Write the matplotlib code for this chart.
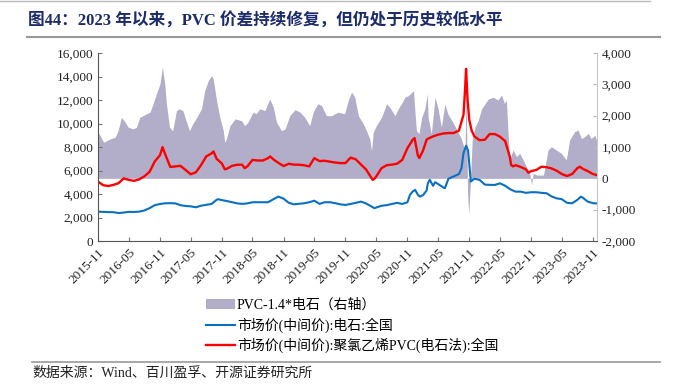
import pandas as pd
import matplotlib
matplotlib.use('Agg')
import matplotlib.pyplot as plt
from matplotlib.ticker import FuncFormatter, MultipleLocator
from matplotlib.patches import Patch
from matplotlib.lines import Line2D

plt.rcParams['font.family'] = ['Liberation Serif', 'Noto Sans CJK SC']
plt.rcParams['axes.unicode_minus'] = False

TITLE = '图44：2023 年以来，PVC 价差持续修复，但仍处于历史较低水平'
SOURCE = '数据来源：Wind、百川盈孚、开源证券研究所'
LABEL_SPREAD = 'PVC-1.4*电石（右轴）'
LABEL_CARBIDE = '市场价(中间价):电石:全国'
LABEL_PVC = '市场价(中间价):聚氯乙烯PVC(电石法):全国'

# PVC price (left axis)
pvc_dates = [
    '2015-11-01', '2015-12-01', '2016-01-01', '2016-02-01', '2016-03-01', '2016-04-01',
    '2016-05-01', '2016-06-01', '2016-07-01', '2016-08-01', '2016-09-01', '2016-10-01',
    '2016-11-01', '2016-11-16', '2016-12-01', '2017-01-01', '2017-02-01', '2017-03-01',
    '2017-04-01', '2017-05-01', '2017-06-01', '2017-07-01', '2017-08-01', '2017-09-01',
    '2017-09-13', '2017-10-01', '2017-11-01', '2017-11-19', '2017-12-01', '2018-01-01',
    '2018-02-01', '2018-03-01', '2018-03-16', '2018-04-01', '2018-05-01', '2018-06-01',
    '2018-07-01', '2018-08-01', '2018-08-13', '2018-09-01', '2018-10-01', '2018-11-01',
    '2018-12-01', '2019-01-01', '2019-02-01', '2019-03-01', '2019-04-01', '2019-05-01',
    '2019-06-01', '2019-07-01', '2019-08-01', '2019-09-01', '2019-10-01', '2019-11-01',
    '2019-12-01', '2020-01-01', '2020-02-01', '2020-03-01', '2020-04-01', '2020-04-10',
    '2020-04-20', '2020-05-01', '2020-06-01', '2020-07-01', '2020-08-01', '2020-09-01',
    '2020-10-01', '2020-11-01', '2020-12-01', '2020-12-13', '2021-01-01', '2021-01-10',
    '2021-02-01', '2021-02-22', '2021-03-01', '2021-04-01', '2021-05-01', '2021-06-01',
    '2021-07-01', '2021-08-01', '2021-09-01', '2021-09-28', '2021-10-07', '2021-10-13',
    '2021-10-22', '2021-11-01', '2021-11-15', '2021-12-01', '2022-01-01', '2022-02-01',
    '2022-03-01', '2022-04-01', '2022-05-01', '2022-06-01', '2022-06-28', '2022-07-06',
    '2022-07-16', '2022-08-01', '2022-09-01', '2022-10-01', '2022-10-16', '2022-11-01',
    '2022-12-01', '2023-01-01', '2023-02-01', '2023-03-01', '2023-04-01', '2023-05-01',
    '2023-06-01', '2023-07-01', '2023-08-01', '2023-08-16', '2023-09-01', '2023-10-01',
    '2023-11-01', '2023-11-22']
pvc_values = [
    5060, 4750, 4680, 4780, 4920, 5330,
    5200, 5120, 5250, 5500, 5900, 6770,
    7300, 7990, 7400, 6300, 6350, 6400,
    6050, 5680, 5850, 6450, 7200, 7450,
    7620, 7000, 6600, 6100, 6150, 6400,
    6490, 6490, 6200, 6350, 6900, 6850,
    6850, 7050, 7200, 6950, 6650, 6380,
    6570, 6500, 6490, 6450, 6350, 7050,
    6800, 6830, 6750, 6680, 6630, 6630,
    7100, 6950, 6500, 6100, 5400, 5200,
    5300, 5500, 6200, 6450, 6500, 6580,
    6900, 7900, 8600, 8760, 7300, 7060,
    7700, 8620, 8700, 8900, 9050, 9150,
    9190, 9190, 9400, 10750, 12890, 14650,
    12000, 10300, 9400, 8900, 8580, 8620,
    9100, 9100, 8880, 8500, 7180, 6470,
    6350, 6450, 6300, 6100, 5810, 5950,
    6040, 6320, 6280, 6180, 5980, 5700,
    5530, 5700, 6200, 6320, 6150, 5950,
    5700, 5620]

# calcium carbide price (left axis)
carbide_dates = [
    '2015-11-01', '2015-12-01', '2016-01-01', '2016-02-01', '2016-03-01', '2016-04-01',
    '2016-05-01', '2016-06-01', '2016-07-01', '2016-08-01', '2016-09-01', '2016-10-01',
    '2016-11-01', '2016-12-01', '2017-01-01', '2017-02-01', '2017-03-01', '2017-04-01',
    '2017-05-01', '2017-06-01', '2017-07-01', '2017-08-01', '2017-09-01', '2017-10-01',
    '2017-10-10', '2017-11-01', '2017-12-01', '2018-01-01', '2018-02-01', '2018-03-01',
    '2018-04-01', '2018-05-01', '2018-06-01', '2018-07-01', '2018-08-01', '2018-09-01',
    '2018-10-01', '2018-11-01', '2018-12-01', '2019-01-01', '2019-02-01', '2019-03-01',
    '2019-04-01', '2019-05-01', '2019-06-01', '2019-07-01', '2019-08-01', '2019-09-01',
    '2019-10-01', '2019-11-01', '2019-12-01', '2020-01-01', '2020-02-01', '2020-03-01',
    '2020-04-01', '2020-04-20', '2020-05-01', '2020-06-01', '2020-07-01', '2020-08-01',
    '2020-09-01', '2020-10-01', '2020-11-01', '2020-11-16', '2020-12-01', '2020-12-16',
    '2021-01-01', '2021-01-13', '2021-02-01', '2021-02-22', '2021-03-01', '2021-03-13',
    '2021-04-01', '2021-04-13', '2021-05-01', '2021-06-01', '2021-06-10', '2021-07-01',
    '2021-08-01', '2021-09-01', '2021-09-16', '2021-09-28', '2021-10-13', '2021-10-25',
    '2021-11-10', '2021-12-01', '2022-01-01', '2022-02-01', '2022-03-01', '2022-04-01',
    '2022-05-01', '2022-06-01', '2022-07-01', '2022-08-01', '2022-09-01', '2022-10-01',
    '2022-11-01', '2022-12-01', '2023-01-01', '2023-02-01', '2023-03-01', '2023-04-01',
    '2023-05-01', '2023-06-01', '2023-07-01', '2023-08-01', '2023-08-22', '2023-09-01',
    '2023-10-01', '2023-11-01', '2023-11-22']
carbide_values = [
    2500, 2480, 2460, 2450, 2380, 2420,
    2480, 2470, 2500, 2600, 2800, 3050,
    3150, 3210, 3220, 3200, 3050, 2980,
    2950, 2870, 3000, 3080, 3150, 3500,
    3560, 3480, 3400, 3300, 3200, 3160,
    3200, 3300, 3300, 3300, 3300, 3550,
    3780, 3600, 3250, 3120, 3170, 3210,
    3300, 3430, 3160, 3300, 3300, 3220,
    3120, 3070, 3150, 3250, 3350, 3200,
    2950, 2790, 2850, 3000, 3050, 3150,
    3250, 3150, 3300, 3930, 4200, 4350,
    3950, 3780, 3900, 4300, 4900, 5210,
    4700, 5000, 4850, 4550, 4500, 5300,
    5500, 5700, 6200, 7480, 8110, 7700,
    5060, 5300, 5200, 4800, 4780, 4770,
    4910, 4700, 4400, 4200, 4200, 4100,
    4150, 4150, 4100, 4060, 3800, 3630,
    3560, 3250, 3210, 3500, 3770, 3700,
    3350, 3220, 3200]

# PVC - 1.4 * carbide spread (right axis)
spread_dates = [
    '2015-11-01', '2015-11-14', '2015-12-04', '2015-12-22', '2016-01-12', '2016-02-10',
    '2016-02-28', '2016-03-18', '2016-04-09', '2016-04-27', '2016-05-26', '2016-06-15',
    '2016-07-05', '2016-07-24', '2016-08-13', '2016-09-03', '2016-09-21', '2016-10-11',
    '2016-11-01', '2016-11-15', '2016-11-29', '2016-12-09', '2016-12-27', '2017-01-15',
    '2017-02-06', '2017-02-23', '2017-03-16', '2017-04-04', '2017-04-24', '2017-05-13',
    '2017-06-01', '2017-07-04', '2017-07-23', '2017-08-13', '2017-09-02', '2017-09-11',
    '2017-10-01', '2017-10-20', '2017-11-10', '2017-11-18', '2017-11-28', '2017-12-19',
    '2018-01-19', '2018-02-25', '2018-03-16', '2018-04-04', '2018-05-04', '2018-05-23',
    '2018-06-13', '2018-07-13', '2018-08-11', '2018-09-01', '2018-09-20', '2018-10-19',
    '2018-11-10', '2018-12-07', '2019-01-07', '2019-02-06', '2019-03-05', '2019-04-04',
    '2019-04-24', '2019-05-22', '2019-06-13', '2019-07-11', '2019-08-10', '2019-09-18',
    '2019-10-27', '2019-11-17', '2019-12-07', '2019-12-26', '2020-01-16', '2020-02-14',
    '2020-03-04', '2020-03-23', '2020-04-03', '2020-04-13', '2020-05-01', '2020-06-01',
    '2020-07-01', '2020-07-19', '2020-08-19', '2020-09-08', '2020-10-07', '2020-10-16',
    '2020-11-07', '2020-12-07', '2020-12-16', '2020-12-24', '2021-01-08', '2021-01-24',
    '2021-02-12', '2021-02-26', '2021-03-03', '2021-03-22', '2021-04-13', '2021-05-01',
    '2021-05-20', '2021-06-10', '2021-06-27', '2021-07-27', '2021-08-27', '2021-09-15',
    '2021-10-07', '2021-10-13', '2021-10-22', '2021-10-29', '2021-11-07', '2021-11-18',
    '2021-12-04', '2021-12-23', '2022-01-13', '2022-02-02', '2022-02-21', '2022-03-22',
    '2022-04-19', '2022-05-10', '2022-05-28', '2022-06-08', '2022-06-18', '2022-06-27',
    '2022-07-17', '2022-08-07', '2022-08-25', '2022-09-16', '2022-10-04', '2022-10-24',
    '2022-11-04', '2022-11-13', '2022-12-04', '2023-01-13', '2023-02-09', '2023-03-01',
    '2023-03-29', '2023-04-28', '2023-05-28', '2023-06-16', '2023-07-16', '2023-08-05',
    '2023-08-25', '2023-09-14', '2023-10-04', '2023-10-22', '2023-11-13', '2023-11-22']
spread_values = [
    1470, 1360, 1150, 1200, 1260, 1310,
    1520, 1950, 1790, 1630, 1580, 1630,
    1950, 2000, 2060, 2110, 2380, 2700,
    3020, 3550, 3020, 2380, 1630, 1520,
    2160, 2220, 2160, 1840, 1520, 1740,
    1900, 2220, 2800, 3120, 3280, 3180,
    2480, 1950, 1520, 1150, 1260, 1680,
    1900, 1840, 1680, 1790, 2110, 2060,
    2220, 2160, 2530, 2270, 1790, 1520,
    1580, 2000, 2190, 2110, 1950, 1680,
    2110, 2380, 2320, 2000, 2000, 2110,
    2060, 2480, 2750, 2590, 2000, 1740,
    1520, 1260, 885, 1470, 1680, 1950,
    2380, 2270, 2000, 2220, 2480, 2590,
    2640, 2800, 2060, 1520, 1420, 1950,
    2220, 2700, 1950, 1420, 2590, 2220,
    1630, 2380, 2060, 1790, 1470, 1260,
    885, 2900, -500, -1140, -180, 1200,
    1630, 1840, 2220, 2380, 2530, 2590,
    2500, 2660, 2390, 2500, 1437, 585,
    904, 690, 800, 585, 371, 160,
    -213, 160, 105, 105, 904, 1010,
    904, 800, 585, 1223, 1488, 1540,
    1270, 1330, 1437, 1270, 1380, 1223]

tick_dates = pd.date_range('2015-11-01', '2023-11-01', freq='6MS')

fig = plt.figure(figsize=(6.75, 3.86), dpi=100)
ax = fig.add_axes([98 / 675, 1 - 241 / 386, (597 - 98) / 675, (241 - 53) / 386])
ax2 = ax.twinx()
ax.set_zorder(ax2.get_zorder() + 1)
ax.patch.set_visible(False)

ax2.fill_between(pd.to_datetime(spread_dates), 0, spread_values,
                 color='#b2adc8', linewidth=0)
ax.plot(pd.to_datetime(carbide_dates), carbide_values, color='#0a70c2', lw=1.5)
ax.plot(pd.to_datetime(pvc_dates), pvc_values, color='#ff0000', lw=1.7)

ax.set_xlim(pd.Timestamp('2015-11-01'), pd.Timestamp('2023-11-25'))
ax.set_ylim(0, 16000)
ax2.set_ylim(-2000, 4000)
ax.yaxis.set_major_locator(MultipleLocator(2000))
ax2.yaxis.set_major_locator(MultipleLocator(1000))
fmt = FuncFormatter(lambda v, _: f'{v:,.0f}')
ax.yaxis.set_major_formatter(fmt)
ax2.yaxis.set_major_formatter(fmt)

ax.set_xticks(tick_dates)
ax.set_xticklabels([d.strftime('%Y-%m') for d in tick_dates], rotation=45,
                   ha='right', rotation_mode='anchor')

for a in (ax, ax2):
    a.tick_params(direction='in', length=3, labelsize=9.5, colors='#222222',
                  width=0.8)
    a.spines['top'].set_visible(False)
ax.tick_params(axis='x', pad=4, color='#777777')
ax.tick_params(axis='y', color='#777777')
ax2.tick_params(axis='y', color='#bbbbbb')
ax.spines['left'].set_color('#555555')
ax.spines['bottom'].set_color('#555555')
ax.spines['right'].set_visible(False)
ax2.spines['left'].set_visible(False)
ax2.spines['bottom'].set_visible(False)
ax2.spines['right'].set_color('#c8c8c8')

handles = [Patch(facecolor='#b2adc8', edgecolor='none'),
           Line2D([], [], color='#0a70c2', lw=1.5),
           Line2D([], [], color='#ff0000', lw=1.7)]
fig.legend(handles, [LABEL_SPREAD, LABEL_CARBIDE, LABEL_PVC],
           loc='upper left', bbox_to_anchor=(200 / 675, 1 - 293 / 386),
           frameon=False, fontsize=10, handlelength=2.1, handletextpad=0.15,
           labelspacing=0.38, borderaxespad=0)

fig.text(28 / 675, 1 - 21 / 386, TITLE, fontsize=12, fontweight='bold',
         color='#1b2b6b', va='center', ha='left')
fig.text(32 / 675, 1 - 373 / 386, SOURCE, fontsize=10, color='#222222',
         va='center', ha='left')

fig.add_artist(Line2D([0, 650 / 675], [1 - 1 / 386, 1 - 1 / 386],
                      color='#bbbbbb', lw=1.0))
fig.add_artist(Line2D([27 / 675, 660 / 675], [1 - 37 / 386, 1 - 37 / 386],
                      color='#999999', lw=1.5))
fig.add_artist(Line2D([32 / 675, 660 / 675], [1 - 362 / 386, 1 - 362 / 386],
                      color='#999999', lw=1.2))

fig.savefig('out.png', dpi=100)
